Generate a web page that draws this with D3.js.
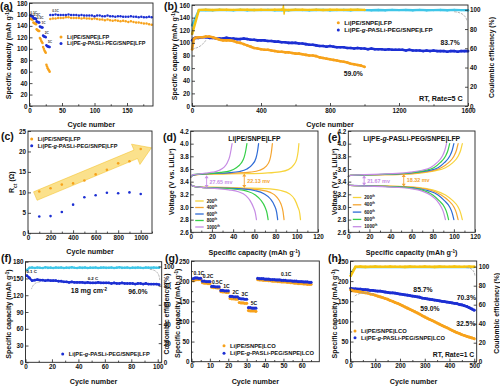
<!DOCTYPE html>
<html>
<head>
<meta charset="utf-8">
<script src="https://cdn.jsdelivr.net/npm/d3@7"></script>
<style>
  body { margin: 0; background: #fff; }
  svg { display: block; }
</style>
</head>
<body>
<div id="wrapper"></div>
<script>

// 1. Data

// (a) rate test (cycles 1-31) then 0.1 C cycling
const aRateOrange = [
  [1,153],[2,152],[3,152],[4,151],[5,151],
  [6,146],[7,145],[8,144],[9,144],[10,143],
  [11,134],[12,133],[13,132],[14,131],[15,131],
  [16,119],[17,117],[18,114],[19,112],[20,110],
  [21,103],[22,100],[23,97],[24,95],[25,93],
  [26,72],[27,69],[28,66],[29,64],[30,62],[31,60]];
const aRateBlue = [
  [1,158],[2,158],[3,157],[4,157],[5,157],
  [6,154],[7,153],[8,153],[9,153],[10,152],
  [11,148],[12,147],[13,147],[14,146],[15,146],
  [16,139],[17,138],[18,138],[19,137],[20,137],
  [21,123],[22,122],[23,121],[24,121],[25,120],
  [26,106],[27,105],[28,104],[29,104],[30,103],[31,103]];
const aRateNames = ["0.1C", "0.2C", "0.5C", "1C", "2C", "5C", "0.1C"];
const aRecCycles = d3.range(32, 189, 4);
const aRecOrange = [152,153,153,154,154,154,155,155,154,154,
                    154,154,153,154,153,153,152,153,152,151,
                    151,150,151,150,149,150,149,148,149,148,
                    147,148,147,146,146,145,144,144,143,142];
const aRecBlue = [159,159,160,159,159,159,159,160,159,159,
                  159,158,159,158,158,158,158,157,158,158,
                  157,157,158,157,157,156,157,157,156,156,
                  156,157,156,156,155,156,155,155,156,155];

// (b) long cycling at 5 C
const bCycles = [1, 10].concat(d3.range(20, 1601, 20));
const bOrange = [90,106,
  108,109,109,110,110,109,107,105,104,104,
  104,103,101,100,98,96,94,92,91,90,
  89,89,88,87,86,86,85,85,84,83,
  83,82,81,80,80,79,77,76,75,74,
  73,72,71,70,69,67,66,65,64,62];
const bBlue = [104,107,
  108,108,109,109,108,108,107,107,107,108,
  107,107,106,106,107,106,105,105,104,104,
  104,103,103,102,102,101,101,100,100,100,
  99,99,98,97,97,96,95,95,94,95,
  94,93,93,93,92,92,91,92,91,91,
  90,91,90,90,90,89,90,89,89,89,
  89,88,89,88,88,88,87,88,87,88,
  87,87,87,86,87,87,86,87,87,87];
const bCECycles = [1].concat(d3.range(40, 1601, 40));
const bCECyan = [84,99.6,99.8,99.5,99.9,99.7,99.6,99.9,99.5,99.8,
                 99.7,99.9,99.6,99.8,99.5,99.9,99.7,99.6,99.8,99.9,
                 99.5,99.7,99.8,99.6,99.9,99.7,99.5,99.8,99.6,99.9,
                 99.7,99.8,99.5,99.9,99.6,99.7,99.8,99.6,99.9,99.7,99.5];
const bCEGold = [75,99.9,100.1,99.8,100,100.2,99.9,100,100.1,99.8,
                 100,99.9,100.2,100,99.8,100.1,100,99.9,100.2,99.8,
                 100,100.1,99.9,100,100.2,99.9];
const bCESpike = [[526,100],[530,104.5],[534,95.5],[538,100]];

// (c) charge-transfer resistance
const cCycles = [100,200,300,400,500,600,700,800,900,1000];
const cOrange = [10.2,11.0,11.9,12.2,12.9,14.4,15.5,17.1,17.6,20.6];
const cBlue = [4.1,4.2,5.2,7.0,8.8,9.3,9.9,9.8,10.0,9.6];

// (d), (e) charge / discharge profiles: [capacity, voltage]
const cycleLabels = ["200", "400", "600", "800", "1000"];
const dCharge = [
  [[0,3.47],[2,3.50],[10,3.515],[30,3.52],[50,3.525],[70,3.535],[84,3.555],[92,3.59],[97,3.66],[100,3.76],[101.3,3.88],[102,4.0]],
  [[0,3.47],[2,3.50],[10,3.52],[25,3.525],[42,3.535],[56,3.55],[65,3.58],[71,3.64],[74.5,3.74],[76,3.86],[77,4.0]],
  [[0,3.47],[2,3.50],[10,3.52],[22,3.53],[35,3.54],[46,3.56],[53,3.60],[58,3.67],[61.5,3.77],[63,3.88],[64,4.0]],
  [[0,3.47],[2,3.51],[8,3.52],[18,3.53],[28,3.545],[37,3.57],[43,3.62],[47.5,3.69],[50.5,3.79],[52,3.9],[53,4.0]],
  [[0,3.47],[2,3.51],[7,3.52],[14,3.535],[21,3.55],[27,3.58],[31.5,3.63],[34.5,3.70],[36.8,3.8],[38,3.9],[39,4.0]]];
const dDischarge = [
  [[0,3.36],[2,3.33],[10,3.315],[30,3.31],[50,3.30],[70,3.29],[85,3.26],[93,3.21],[98,3.12],[101,3.0],[102.8,2.9],[103.5,2.8]],
  [[0,3.36],[2,3.33],[10,3.31],[30,3.30],[50,3.29],[65,3.27],[75,3.23],[81,3.16],[85,3.05],[87,2.93],[88,2.8]],
  [[0,3.36],[2,3.33],[10,3.31],[30,3.30],[48,3.285],[60,3.26],[69,3.21],[75,3.13],[79,3.02],[81,2.92],[82,2.8]],
  [[0,3.36],[2,3.33],[10,3.31],[28,3.295],[42,3.28],[53,3.25],[61,3.19],[66,3.11],[70,3.0],[72,2.9],[73,2.8]],
  [[0,3.36],[2,3.33],[10,3.31],[25,3.29],[36,3.27],[45,3.24],[52,3.18],[56,3.10],[59,3.0],[61,2.9],[62,2.8]]];
const eCharge = [
  [[0,3.48],[2,3.50],[15,3.505],[35,3.51],[55,3.52],[70,3.54],[82,3.57],[92,3.62],[99,3.70],[104,3.8],[106.5,3.9],[108,4.0]],
  [[0,3.48],[2,3.50],[15,3.505],[35,3.51],[52,3.52],[67,3.54],[79,3.57],[88,3.62],[95,3.70],[100,3.8],[102.5,3.9],[104,4.0]],
  [[0,3.48],[2,3.50],[15,3.505],[35,3.515],[50,3.525],[64,3.545],[76,3.575],[85,3.62],[91,3.70],[96,3.8],[98.5,3.9],[100,4.0]],
  [[0,3.48],[2,3.50],[15,3.505],[33,3.515],[48,3.525],[61,3.545],[72,3.575],[81,3.62],[87,3.70],[92,3.8],[94.5,3.9],[96,4.0]],
  [[0,3.48],[2,3.50],[15,3.51],[32,3.52],[46,3.53],[59,3.55],[70,3.58],[78,3.625],[84,3.70],[89,3.8],[91.5,3.9],[93,4.0]]];
const eDischarge = [
  [[0,3.36],[2,3.34],[15,3.335],[35,3.33],[55,3.32],[70,3.30],[82,3.26],[92,3.19],[99,3.10],[104,3.0],[106.5,2.9],[108,2.8]],
  [[0,3.36],[2,3.34],[15,3.335],[35,3.33],[52,3.32],[67,3.30],[79,3.26],[88,3.19],[95,3.10],[100,3.0],[102.5,2.9],[104,2.8]],
  [[0,3.36],[2,3.34],[15,3.335],[35,3.325],[50,3.315],[64,3.295],[76,3.255],[85,3.19],[91,3.10],[96,3.0],[98.5,2.9],[100,2.8]],
  [[0,3.36],[2,3.34],[15,3.33],[33,3.325],[48,3.315],[61,3.295],[72,3.255],[80,3.19],[86,3.10],[91,3.0],[93.5,2.9],[95,2.8]],
  [[0,3.36],[2,3.34],[15,3.33],[32,3.32],[46,3.31],[59,3.29],[70,3.25],[78,3.185],[84,3.10],[88,3.0],[90.5,2.9],[92,2.8]]];
const dGaps = [["27.65 mv", 15, 3.50, 3.30], ["22.13 mv", 50.5, 3.53, 3.30]];
const eGaps = [["21.67 mv", 15, 3.50, 3.335], ["18.32 mv", 52.5, 3.52, 3.32]];

// (f) high loading cell
const fCycles = d3.range(1, 102, 2);
const fCap = [155,151,146,147,148,147,147,146,147,146,
              146,146,145,145,144,144,143,144,143,143,
              143,143,142,143,142,142,142,143,142,142,
              142,142,141,142,141,141,142,141,141,141,
              141,140,141,141,140,141,140,140,140,140,139];
const fCE = [96.3,98.6,98.9,98.4,99.0,98.7,98.5,99.1,98.6,98.8,
             98.4,98.9,98.7,99.0,98.5,98.8,98.6,99.1,98.7,98.4,
             98.9,98.6,99.0,98.5,98.8,98.7,98.9,98.4,98.8,99.0,
             98.6,98.7,98.9,98.5,98.8,99.1,98.6,98.7,98.9,98.5,
             98.8,98.6,99.0,98.7,98.4,98.9,98.8,98.6,99.0,98.7,98.8];

// (g) LCO rate test
const gCycles = d3.range(1, 66);
const gBlue = [206,208,208,207,207, 200,200,199,199,199, 187,187,186,186,186,
  177,177,176,176,176, 162,162,161,161,161, 157,156,156,155,155, 134,134,133,133,133,
  207,206,206,206,205, 205,205,204,204,204, 203,203,203,202,202,
  202,201,201,201,200, 200,200,199,199,199, 198,198,198,197,197];
const gOrange = [201,203,204,204,204, 196,195,195,194,194, 185,184,184,183,183,
  174,173,173,172,172, 157,156,156,155,155, 147,146,146,145,145, 127,126,126,126,125,
  204,203,203,202,202, 202,201,201,200,200, 200,199,199,198,198,
  198,197,197,196,196, 195,195,194,194,194, 193,193,192,192,192];
const gBlocks = [["0.1C",1,5],["0.2C",6,10],["0.5C",11,15],["1C",16,20],["2C",21,25],["3C",26,30],["5C",31,35],["0.1C",36,65]];

// (h) LCO cycling at 1 C
const hCycles = [1].concat(d3.range(10, 501, 10));
const hOrange = [178,
  176,175,174,173,172,171,170,168,167,165,
  163,161,159,157,155,152,150,147,145,142,
  139,136,133,130,127,124,121,118,114,111,
  108,105,102,99,96,93,90,87,84,81,
  78,75,72,70,67,65,63,61,59,57];
const hBlue = [182,
  181,181,180,180,179,179,178,177,177,176,
  175,175,174,173,172,171,171,170,169,168,
  167,166,165,164,163,162,161,160,158,157,
  156,155,154,153,152,151,150,149,148,147,
  146,145,144,142,141,139,137,134,131,128];
const hCECycles = [1].concat(d3.range(20, 501, 20));
const hCEGold = [90.5,99.9,100.1,99.8,100,100.1,99.9,100,100.2,99.9,100,99.8,100.1,
                 100,99.9,100.1,100,99.8,100.1,99.9,100,100.2,99.9,100,100.1,99.9];
const hCECyan = [93,99.5,99.7,99.4,99.6,99.8,99.5,99.7,99.6,99.4,99.7,99.5,99.8,
                 99.6,99.5,99.7,99.4,99.6,99.8,99.5,99.7,99.6,99.4,99.7,99.5,99.6];

// 2. Styles

const FONT = "'Liberation Sans', Arial, sans-serif";
const ORANGE = "#f7a21b";
const BLUE = "#1c2fd3";
const GOLD = "#f5c412";
const CYAN = "#3fc6e8";
const GREY = "#a0a0a0";
const CURVE_COLORS = ["#f7d43c", "#f5a530", "#2e6bd6", "#36cf48", "#c68be4"];
const PURPLE = "#c98fe6";

const LBL_A = [["Li|PE/SNPE|LFP"]];
const LBL_B = [["Li|PE-"], ["g", "it"], ["-PASLi-PEG/SNPE|LFP"]];
const LBL_A_LCO = [["Li|PE/SNPE|LCO"]];
const LBL_B_LCO = [["Li|PE-"], ["g", "it"], ["-PASLi-PEG/SNPE|LCO"]];
const CAP_TITLE = [["Specific capacity (mAh g"], ["-1", "sup"], [")"]];
const CE_TITLE = [["Coulombic efficiency (%)"]];
const V_TITLE = [["Voltage (V vs. Li/Li"], ["+", "sup"], [")"]];

// 3. Canvas

const svg = d3.select("#wrapper").append("svg")
    .attr("width", 500)
    .attr("height", 386)
    .attr("font-family", FONT)
    .attr("font-weight", "bold");

// Helpers

function rich(text, parts) {
  parts.forEach(([t, kind]) => {
    const ts = text.append("tspan").text(t);
    if (kind === "sup") ts.attr("baseline-shift", "super").attr("font-size", "65%");
    if (kind === "sub") ts.attr("baseline-shift", "sub").attr("font-size", "70%");
    if (kind === "it") ts.attr("font-style", "italic");
  });
  return text;
}

function addAxis(layer, gen, transform) {
  const a = layer.append("g").attr("transform", transform).call(gen);
  a.attr("font-family", FONT).attr("font-size", 6.3).attr("font-weight", "bold");
  a.select(".domain").remove();
  a.selectAll("line").attr("stroke", "#222").attr("stroke-width", 0.8);
  a.selectAll("text").attr("fill", "#111");
  return a;
}

function makePanel(c) {
  const root = svg.append("g");
  const x = d3.scaleLinear().domain(c.xDomain).range([c.left, c.right]);
  const y = d3.scaleLinear().domain(c.yDomain).range([c.bottom, c.top]);
  const y2 = c.y2Domain ? d3.scaleLinear().domain(c.y2Domain).range([c.bottom, c.top]) : null;
  const under = root.append("g");
  const data = root.append("g");
  const frame = root.append("g");
  const top = root.append("g");
  const titleShift = c.titleShift || 0;

  frame.append("rect")
      .attr("x", c.left).attr("y", c.top)
      .attr("width", c.right - c.left).attr("height", c.bottom - c.top)
      .attr("fill", "none").attr("stroke", "#222").attr("stroke-width", 0.9);

  addAxis(frame, d3.axisBottom(x).tickValues(c.xTicks).tickSize(-3).tickPadding(2.2)
      .tickFormat(d3.format("d")), `translate(0,${c.bottom})`);
  if (c.xMinor) addAxis(frame, d3.axisBottom(x).tickValues(c.xMinor).tickSize(-1.7).tickFormat(""),
      `translate(0,${c.bottom})`);
  addAxis(frame, d3.axisLeft(y).tickValues(c.yTicks).tickSize(-3).tickPadding(2)
      .tickFormat(c.yFormat || d3.format("d")), `translate(${c.left},0)`);
  if (c.yMinor) addAxis(frame, d3.axisLeft(y).tickValues(c.yMinor).tickSize(-1.7).tickFormat(""),
      `translate(${c.left},0)`);
  if (y2) addAxis(frame, d3.axisRight(y2).tickValues(c.y2Ticks).tickSize(-3).tickPadding(2)
      .tickFormat(d3.format("d")), `translate(${c.right},0)`);

  // axis titles
  svg.append("text")
      .attr("x", (c.left + c.right) / 2).attr("y", c.xTitleY)
      .attr("text-anchor", "middle").attr("font-size", 7.2).attr("fill", "#111")
      .call(t => rich(t, c.xTitle));
  svg.append("text")
      .attr("transform", `translate(${c.yTitleX},${(c.top + c.bottom) / 2 + titleShift}) rotate(-90)`)
      .attr("text-anchor", "middle").attr("font-size", 7).attr("fill", "#111")
      .call(t => rich(t, c.yTitle));
  if (c.y2Title) {
    svg.append("text")
        .attr("transform", `translate(${c.y2TitleX},${(c.top + c.bottom) / 2 + 2}) rotate(-90)`)
        .attr("text-anchor", "middle").attr("font-size", 6.8).attr("fill", "#111")
        .call(t => rich(t, c.y2Title));
  }
  // panel letter
  svg.append("text").attr("x", c.letterX).attr("y", c.letterY)
      .attr("font-size", 10.5).attr("fill", "#111").text(c.letter);

  return { x, y, y2, under, data, top };
}

function dots(layer, pts, x, y, color, r) {
  layer.append("g").selectAll("circle").data(pts).join("circle")
      .attr("cx", d => x(d[0])).attr("cy", d => y(d[1]))
      .attr("r", r).attr("fill", color);
}

function band(layer, pts, x, y, color, w, curve) {
  layer.append("path").datum(pts)
      .attr("d", d3.line().x(d => x(d[0])).y(d => y(d[1])).curve(curve || d3.curveLinear))
      .attr("fill", "none").attr("stroke", color).attr("stroke-width", w)
      .attr("stroke-linejoin", "round").attr("stroke-linecap", "round");
}

function label(layer, px, py, str, size, color, anchor) {
  return layer.append("text").attr("x", px).attr("y", py)
      .attr("font-size", size).attr("fill", color || "#111")
      .attr("text-anchor", anchor || "middle").text(str);
}

function dotLegend(layer, items, px, py, dy, size) {
  items.forEach((it, i) => {
    layer.append("circle").attr("cx", px).attr("cy", py + i * dy).attr("r", 1.5).attr("fill", it.color);
    layer.append("text").attr("x", px + 6).attr("y", py + i * dy + size * 0.36)
        .attr("font-size", size).attr("fill", "#111").call(t => rich(t, it.label));
  });
}

function arc(layer, p0, pc, p1) {
  layer.append("path")
      .attr("d", `M${p0[0]},${p0[1]} Q${pc[0]},${pc[1]} ${p1[0]},${p1[1]}`)
      .attr("fill", "none").attr("stroke", GREY).attr("stroke-width", 0.8)
      .attr("stroke-dasharray", "2.5,1");
}

const zip = (xs, ys) => ys.map((v, i) => [xs[i], v]);

// 4. Panel (a)

const A = makePanel({
  left: 29.5, right: 153, top: 3, bottom: 106,
  xDomain: [0, 190], yDomain: [0, 180],
  xTicks: [0, 50, 100, 150], xMinor: [25, 75, 125, 175],
  yTicks: d3.range(0, 181, 20),
  xTitle: [["Cycle number"]], xTitleY: 126.5,
  yTitle: CAP_TITLE, yTitleX: 11,
  letter: "(a)", letterX: 0, letterY: 10
});
dots(A.data, zip(aRecCycles, aRecOrange), A.x, A.y, ORANGE, 1.25);
dots(A.data, zip(aRecCycles, aRecBlue), A.x, A.y, BLUE, 1.25);
dots(A.data, aRateOrange, A.x, A.y, ORANGE, 1.25);
dots(A.data, aRateBlue, A.x, A.y, BLUE, 1.25);
// rate tags sit diagonally, just right of each block's top
aRateNames.forEach((name, i) => {
  const block = i < 6 ? aRateBlue.slice(i * 5, i * 5 + 5) : [[40, 160]];
  const cx = d3.max(block, d => d[0]) + (i < 6 ? 1.5 : 0);
  const cy = d3.max(block, d => d[1]) + 3.5;
  label(A.top, A.x(cx), A.y(cy), name, 3.2, "#333");
});
dotLegend(A.top, [{ color: ORANGE, label: LBL_A }, { color: BLUE, label: LBL_B }], 61, 37, 6.5, 5.5);

// 5. Panel (b)

const B = makePanel({
  left: 192, right: 468, top: 5, bottom: 106,
  xDomain: [0, 1600], yDomain: [0, 160], y2Domain: [0, 105],
  xTicks: d3.range(0, 1601, 400), xMinor: d3.range(200, 1601, 400),
  yTicks: d3.range(0, 161, 20), y2Ticks: d3.range(0, 101, 20),
  xTitle: [["Cycle number"]], xTitleY: 126.5,
  yTitle: CAP_TITLE, yTitleX: 177,
  y2Title: CE_TITLE, y2TitleX: 494,
  letter: "(b)", letterX: 164, letterY: 10
});
const bCyanPts = zip(bCECycles, bCECyan);
band(B.data, bCyanPts, B.x, B.y2, CYAN, 2.4);
dots(B.data, bCyanPts, B.x, B.y2, CYAN, 1.2);
const bGoldPts = zip(bCECycles, bCEGold);
band(B.data, bGoldPts, B.x, B.y2, GOLD, 2.4);
dots(B.data, bGoldPts, B.x, B.y2, GOLD, 1.2);
band(B.data, bCESpike, B.x, B.y2, GOLD, 1.4);
const bOrangePts = zip(bCycles, bOrange);
const bBluePts = zip(bCycles, bBlue);
band(B.data, bBluePts, B.x, B.y, BLUE, 2.6);
dots(B.data, bBluePts, B.x, B.y, BLUE, 1.3);
band(B.data, bOrangePts, B.x, B.y, ORANGE, 2.6);
dots(B.data, bOrangePts, B.x, B.y, ORANGE, 1.3);
arc(B.top, [B.x(80), B.y(104)], [B.x(50), B.y(92)], [B.x(6), B.y(91)]);
arc(B.top, [B.x(1520), B.y2(98)], [B.x(1585), B.y2(97)], [B.x(1595), B.y2(88)]);
label(B.top, B.x(1496), B.y(96.5), "83.7%", 6.8);
label(B.top, B.x(935), B.y(48), "59.0%", 6.8);
label(B.top, B.x(1570), B.y(8), "RT, Rate=5 C", 7.2, "#111", "end");
dotLegend(B.top, [{ color: ORANGE, label: LBL_A }, { color: BLUE, label: LBL_B }], 338.3, 22.7, 7.3, 6.2);

// 6. Panel (c)

const C = makePanel({
  left: 28, right: 152, top: 131, bottom: 233.3,
  xDomain: [0, 1100], yDomain: [0, 25],
  xTicks: d3.range(0, 1001, 200), xMinor: d3.range(100, 1101, 200),
  yTicks: d3.range(0, 26, 5),
  xTitle: [["Cycle number"]], xTitleY: 254,
  yTitle: [["R"], ["ct", "sub"], [" (\u03A9)"]], yTitleX: 13.5,
  letter: "(c)", letterX: 1, letterY: 140
});
{
  const p0 = [C.x(65), C.y(9.1)];
  const p1 = [C.x(1095), C.y(20.9)];
  const dx = p1[0] - p0[0], dy = p1[1] - p0[1], L = Math.hypot(dx, dy);
  const ux = dx / L, uy = dy / L, nx = -uy, ny = ux;
  const hw = 4.6, hh = 11, hl = 17;
  const b = [p1[0] - ux * hl, p1[1] - uy * hl];
  const pts = [
    [p0[0] + nx * hw, p0[1] + ny * hw], [b[0] + nx * hw, b[1] + ny * hw],
    [b[0] + nx * hh, b[1] + ny * hh], p1,
    [b[0] - nx * hh, b[1] - ny * hh], [b[0] - nx * hw, b[1] - ny * hw],
    [p0[0] - nx * hw, p0[1] - ny * hw]];
  C.under.append("polygon").attr("points", pts.map(p => p.join(",")).join(" "))
      .attr("fill", "#f8cd3f").attr("fill-opacity", 0.6)
      .attr("stroke", "#f2bb18").attr("stroke-opacity", 0.6).attr("stroke-width", 0.8);
}
dots(C.data, zip(cCycles, cOrange), C.x, C.y, ORANGE, 1.3);
dots(C.data, zip(cCycles, cBlue), C.x, C.y, BLUE, 1.3);
dotLegend(C.top, [{ color: ORANGE, label: LBL_A }, { color: BLUE, label: LBL_B }], 31.7, 139, 6.7, 5.6);

// 7. Panels (d) and (e)

function voltagePanel(cfg, charge, discharge, gaps, title, legendY, legendDy) {
  const P = makePanel(Object.assign({
    top: 131, bottom: 232.3,
    xDomain: [0, 120], yDomain: [2.6, 4.2],
    xTicks: d3.range(0, 121, 20), xMinor: d3.range(10, 121, 20),
    yTicks: d3.range(2.6, 4.21, 0.2), yFormat: d3.format(".1f"),
    xTitle: CAP_TITLE, xTitleY: 255,
    yTitle: V_TITLE, letterY: 141
  }, cfg));
  const curve = d3.curveMonotoneX;
  charge.forEach((pts, i) => band(P.data, pts, P.x, P.y, CURVE_COLORS[i], 1.2, curve));
  discharge.forEach((pts, i) => band(P.data, pts, P.x, P.y, CURVE_COLORS[i], 1.2, curve));
  gaps.forEach(([txt, cap, vTop, vBot], i) => {
    const color = i === 0 ? PURPLE : "#f5a530";
    const px = P.x(cap), y1 = P.y(vTop), y2 = P.y(vBot);
    P.top.append("line").attr("x1", px).attr("x2", px).attr("y1", y1 + 2).attr("y2", y2 - 2)
        .attr("stroke", color).attr("stroke-width", 0.9);
    P.top.append("path")
        .attr("d", `M${px},${y1} l-2,3 h4 Z M${px},${y2} l-2,-3 h4 Z`)
        .attr("fill", color);
    label(P.top, px + 3, (y1 + y2) / 2 + 2, txt, 5.4, color, "start");
  });
  P.top.append("text").attr("x", (cfg.left + cfg.right) / 2).attr("y", 141)
      .attr("text-anchor", "middle").attr("font-size", 6.8).attr("fill", "#111")
      .call(t => rich(t, title));
  cycleLabels.forEach((lab, i) => {
    const ly = legendY + i * legendDy;
    P.top.append("line").attr("x1", cfg.left + 4.5).attr("x2", cfg.left + 13)
        .attr("y1", ly).attr("y2", ly).attr("stroke", CURVE_COLORS[i]).attr("stroke-width", 1.3);
    P.top.append("text").attr("x", cfg.left + 16).attr("y", ly + 1.6)
        .attr("font-size", 4.6).attr("fill", "#111")
        .call(t => rich(t, [[lab], ["th", "sup"]]));
  });
  return P;
}

voltagePanel({ left: 190.7, right: 318, yTitleX: 173.5, letter: "(d)", letterX: 163 },
    dCharge, dDischarge, dGaps, LBL_A, 201, 6.5);
voltagePanel({ left: 348.3, right: 475, yTitleX: 337, letter: "(e)", letterX: 328 },
    eCharge, eDischarge, eGaps, LBL_B, 197.5, 7.3);

// 8. Panel (f)

const F = makePanel({
  left: 25.5, right: 161.7, top: 261.7, bottom: 362.3,
  xDomain: [0, 103], yDomain: [0, 180], y2Domain: [0, 105],
  xTicks: d3.range(0, 101, 20), xMinor: d3.range(10, 101, 20),
  yTicks: d3.range(0, 181, 30), y2Ticks: d3.range(0, 101, 20),
  xTitle: [["Cycle number"]], xTitleY: 383.5,
  yTitle: CAP_TITLE, yTitleX: 10.5, titleShift: 2,
  y2Title: CE_TITLE, y2TitleX: 169,
  letter: "(f)", letterX: 1, letterY: 262
});
const fCEPts = zip(fCycles, fCE);
band(F.data, fCEPts, F.x, F.y2, CYAN, 2);
dots(F.data, fCEPts, F.x, F.y2, CYAN, 1.3);
const fCapPts = zip(fCycles, fCap);
band(F.data, fCapPts, F.x, F.y, BLUE, 2.2);
dots(F.data, fCapPts, F.x, F.y, BLUE, 1.4);
arc(F.top, [F.x(11), F.y(144)], [F.x(6), F.y(143)], [F.x(4.5), F.y(131)]);
arc(F.top, [F.x(94), F.y2(97)], [F.x(101), F.y2(96.5)], [F.x(101.5), F.y2(86)]);
label(F.top, F.x(4.7), F.y(160), "0.1 C", 4.4);
label(F.top, F.x(51), F.y(148), "0.2 C", 4.4);
F.top.append("text").attr("x", F.x(48)).attr("y", F.y(124)).attr("text-anchor", "middle")
    .attr("font-size", 7).attr("fill", "#111")
    .call(t => rich(t, [["18 mg cm"], ["-2", "sup"]]));
label(F.top, F.x(85), F.y(122), "96.0%", 6.8);
dotLegend(F.top, [{ color: BLUE, label: LBL_B }], 62.7, 354, 0, 5.7);

// 9. Panel (g)

const G = makePanel({
  left: 191.5, right: 319.3, top: 261, bottom: 361.7,
  xDomain: [0, 69.5], yDomain: [0, 250],
  xTicks: d3.range(0, 61, 10), xMinor: d3.range(5, 66, 10),
  yTicks: d3.range(0, 251, 50), yMinor: d3.range(25, 250, 50),
  xTitle: [["Cycle number"]], xTitleY: 383.5,
  yTitle: CAP_TITLE, yTitleX: 180, titleShift: 2,
  letter: "(g)", letterX: 165, letterY: 262
});
dots(G.data, zip(gCycles, gOrange), G.x, G.y, ORANGE, 1.6);
dots(G.data, zip(gCycles, gBlue), G.x, G.y, BLUE, 1.6);
gBlocks.forEach(([name, c0, c1]) => {
  const vals = gBlue.slice(c0 - 1, c1);
  label(G.top, G.x((c0 + c1) / 2 + 1), G.y(d3.max(vals) + 7), name, 5);
});
dotLegend(G.top, [{ color: ORANGE, label: LBL_A_LCO }, { color: BLUE, label: LBL_B_LCO }], 224, 345.7, 7.6, 5.8);

// 10. Panel (h)

const H = makePanel({
  left: 350.5, right: 476.7, top: 261, bottom: 361.7,
  xDomain: [0, 510], yDomain: [0, 250], y2Domain: [0, 106],
  xTicks: d3.range(0, 501, 100), xMinor: d3.range(50, 501, 100),
  yTicks: d3.range(0, 251, 50), yMinor: d3.range(25, 250, 50),
  y2Ticks: d3.range(0, 101, 20),
  xTitle: [["Cycle number"]], xTitleY: 383.5,
  yTitle: CAP_TITLE, yTitleX: 337, titleShift: 2.5,
  y2Title: CE_TITLE, y2TitleX: 498.5,
  letter: "(h)", letterX: 328, letterY: 261.5
});
const hCyanPts = zip(hCECycles, hCECyan);
band(H.data, hCyanPts, H.x, H.y2, CYAN, 2.2);
const hGoldPts = zip(hCECycles, hCEGold);
band(H.data, hGoldPts, H.x, H.y2, GOLD, 2.6);
dots(H.data, hGoldPts, H.x, H.y2, GOLD, 1.3);
const hOrangePts = zip(hCycles, hOrange);
const hBluePts = zip(hCycles, hBlue);
band(H.data, hBluePts, H.x, H.y, BLUE, 2.8);
dots(H.data, hBluePts, H.x, H.y, BLUE, 1.4);
band(H.data, hOrangePts, H.x, H.y, ORANGE, 2.8);
dots(H.data, hOrangePts, H.x, H.y, ORANGE, 1.4);
arc(H.top, [H.x(95), H.y(167)], [H.x(45), H.y(177)], [H.x(15), H.y(162)]);
arc(H.top, [H.x(468), H.y2(99)], [H.x(500), H.y2(99)], [H.x(503), H.y2(90)]);
label(H.top, H.x(293), H.y(173), "85.7%", 6.8);
label(H.top, H.x(468), H.y(154), "70.3%", 6.8);
label(H.top, H.x(321), H.y(127), "59.0%", 6.8);
label(H.top, H.x(466), H.y(88), "32.5%", 6.8);
label(H.top, H.x(500), H.y(12), "RT, Rate=1 C", 6.8, "#111", "end");
dotLegend(H.top, [{ color: ORANGE, label: LBL_A_LCO }, { color: BLUE, label: LBL_B_LCO }], 355, 331, 6.8, 5.8);

</script>
</body>
</html>
